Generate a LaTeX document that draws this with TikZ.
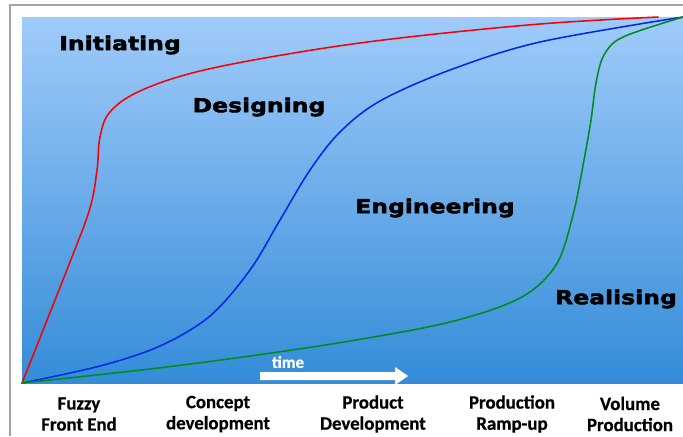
\documentclass[tikz,border=0pt]{standalone}
\usepackage{fontspec}
\setmainfont{Carlito}[BoldFeatures={FakeBold=0.6}]
\newfontfamily\phasefont[FakeStretch=1.22,FakeBold=2.2]{DejaVu Sans}
\usepackage{tikz}
\usetikzlibrary{calc}
\usetikzlibrary{positioning}

\definecolor{skytop}{RGB}{160,203,250}
\definecolor{skybottom}{RGB}{52,140,216}
\definecolor{framegrey}{RGB}{165,165,165}
\definecolor{initred}{RGB}{250,0,0}
\definecolor{designblue}{RGB}{0,40,235}
\definecolor{realgreen}{RGB}{0,140,30}

\begin{document}
\begin{tikzpicture}[x=0.025cm,y=-0.025cm,
    phase/.style={font=\phasefont\bfseries\fontsize{13.7}{16}\selectfont},
    stage/.style={align=center, font=\bfseries\fontsize{13.4}{15}\selectfont},
    curve/.style={line width=1.1pt, line cap=round}]
            \useasboundingbox (0,0) rectangle (683,436);

            % Frame
            \draw[framegrey, line width=1.4pt] (10,436) -- (10,5) -- (683,5);

            % Background
            \fill[top color=skytop, bottom color=skybottom] (22,17) rectangle (683,383);

            % Curves
            \draw[curve, initred] plot[smooth, tension=0.6] coordinates {(22,383) (70,262) (90,208) (97,170) (100,137) (110,112) (140,91) (200,71) (300,52) (400,38) (540,24) (658,17)};
            \draw[curve, designblue] plot[smooth, tension=0.55] coordinates {(22,383) (100,366) (160,346) (210,316) (250,270) (280,220) (310,170) (340,132) (380,101) (450,70) (540,42) (683,17)};
            \draw[curve, realgreen] plot[smooth, tension=0.55] coordinates {(22,383) (150,369) (250,356) (350,341) (450,322) (520,298) (556,265) (573,215) (584,160) (591,120) (596,83) (604,55) (623,37) (683,17)};

            % Time arrow
            \fill[white] (260,372) -- (395,372) -- (395,367) -- (408,376) -- (395,385) -- (395,380) -- (260,380) -- cycle;
            \node[white, font=\bfseries\fontsize{12}{14}\selectfont] (time) at (288,362) {time};

            % Phases
            \node[phase] (initiating) at (120,45) {Initiating};
            \node[phase] (designing) at (259,107) {Designing};
            \node[phase] (engineering) at (435,208) {Engineering};
            \node[phase] (realising) at (616,299) {Realising};

            % Stages
            \node[stage] (fuzzy) at (79,414) {Fuzzy\\Front End};
            \node[stage] (concept) at (218,414) {Concept\\development};
            \node[stage] (product) at (373,414) {Product\\Development};
            \node[stage] (rampup) at (512,414) {Production\\Ramp-up};
            \node[stage] (volume) at (630,414) {Volume\\Production};
        \end{tikzpicture}
\end{document}
